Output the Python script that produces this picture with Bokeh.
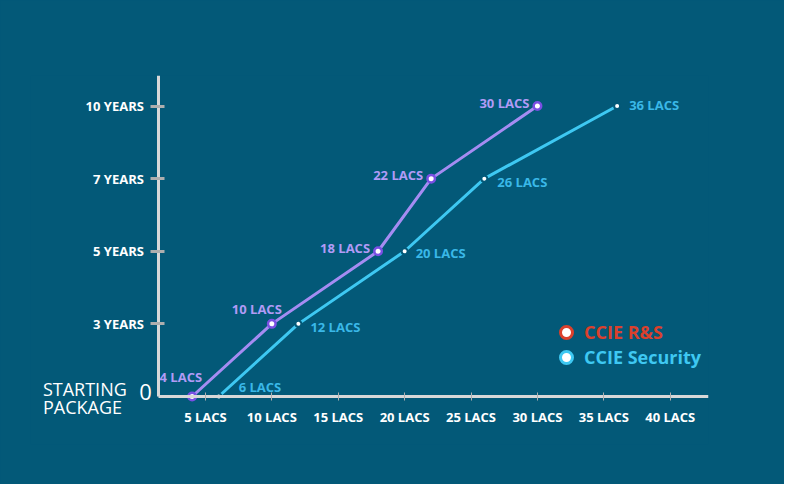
from bokeh.plotting import figure
from bokeh.models import (FixedTicker, ColumnDataSource, Legend, LegendItem, Range1d)
from bokeh.core.properties import value
from bokeh.embed import file_html
from bokeh.resources import INLINE

# ---- data ----
year_levels = [0, 3, 5, 7, 10]
year_tick_labels = ["0", "3 YEARS", "5 YEARS", "7 YEARS", "10 YEARS"]
start_label = ["STARTING", "PACKAGE"]
salary_ticks = [5, 10, 15, 20, 25, 30, 35, 40]
salary_tick_labels = ["5 LACS", "10 LACS", "15 LACS", "20 LACS",
                      "25 LACS", "30 LACS", "35 LACS", "40 LACS"]

rs_years = [0, 3, 5, 7, 10]
rs_salary = [4, 10, 18, 22, 30]
sec_years = [0, 3, 5, 7, 10]
sec_salary = [6, 12, 20, 26, 36]

# label offsets (pixels, styling only)
rs_label_dx = [10, 10, -8, -8, -8]
rs_label_dy = [-19, -15, -3, -4, -3]
sec_label_dx = [20, 12, 11, 13, 12]
sec_label_dy = [-9, 3, 2, 3, -1]

BG = "#035978"
PURPLE = "#a58cf2"
PURPLE_DARK = "#7a4fe3"
PURPLE_TEXT = "#b19bf6"
BLUE = "#3ec8f2"
BLUE_TEXT = "#3ab8e8"
RED = "#db402c"
FONT = "Open Sans"

def src(years, salary, dx, dy):
    return ColumnDataSource(dict(
        x=salary,
        y=[year_levels.index(v) for v in years],
        txt=[f"{s} LACS" for s in salary],
        dx=dx, dy=dy,
    ))

rs_src = src(rs_years, rs_salary, rs_label_dx, rs_label_dy)
sec_src = src(sec_years, sec_salary, sec_label_dx, sec_label_dy)

AXIS_X0 = 1.5
X_LO, X_HI = -8.17, 42.88
Y_LO, Y_HI = -0.661, 4.42

p = figure(width=784, height=484, output_backend="svg", toolbar_location=None,
           x_range=Range1d(X_LO, X_HI), y_range=Range1d(Y_LO, Y_HI),
           min_border_left=30, min_border_right=76, min_border_top=75,
           min_border_bottom=40)
p.styles = {"background-color": BG}
p.background_fill_color = BG
p.background_fill_alpha = 0
p.border_fill_color = BG
p.outline_line_color = None
p.grid.visible = False

# axes (drawn at fixed positions so that side texts stay inside the frame)
for ax in (p.xaxis, p.yaxis):
    ax.axis_line_color = "#d8d8d8"
    ax.axis_line_width = 3
    ax.major_label_text_font = FONT
    ax.major_label_text_font_style = "bold"
    ax.major_label_text_font_size = "13px"
    ax.major_label_text_color = "white"
    ax.minor_tick_line_color = None

p.xaxis.fixed_location = 0
p.xaxis.bounds = (AXIS_X0, X_HI)
p.xaxis.ticker = FixedTicker(ticks=salary_ticks)
p.xaxis.major_label_overrides = {t: l for t, l in zip(salary_ticks, salary_tick_labels)}
p.xaxis.major_tick_line_color = "#b0b0b0"
p.xaxis.major_tick_line_width = 1
p.xaxis.major_tick_in = 4
p.xaxis.major_tick_out = 4
p.xaxis.major_label_standoff = 8

level_ticks = list(range(1, len(year_levels)))
p.yaxis.fixed_location = AXIS_X0
p.yaxis.bounds = (0, Y_HI)
p.yaxis.ticker = FixedTicker(ticks=level_ticks)
p.yaxis.major_label_overrides = {i: "" for i in level_ticks}
p.yaxis.major_tick_line_color = "#aeaeae"
p.yaxis.major_tick_line_width = 3
p.yaxis.major_tick_in = 6
p.yaxis.major_tick_out = 8
p.yaxis.major_label_standoff = 0

# y tick labels (years) as text next to the axis
ytl = ColumnDataSource(dict(x=[AXIS_X0] * len(level_ticks), y=level_ticks,
                            t=year_tick_labels[1:]))
p.text("x", "y", text="t", source=ytl, x_offset=-15, text_align="right",
       text_baseline="middle", text_color="white", text_font=value(FONT),
       text_font_style="bold", text_font_size="13px")
p.text(x=[AXIS_X0], y=[0], text=[year_tick_labels[0]], x_offset=-7, y_offset=-4,
       text_align="right", text_baseline="middle", text_color="white",
       text_font=value(FONT), text_font_size="22px")
p.text(x=[AXIS_X0, AXIS_X0], y=[0, 0], text=start_label, x_offset=-116,
       y_offset=[-7, 11], text_align="left", text_baseline="middle",
       text_color="white", text_font=value(FONT), text_font_size="18px")

# lines
p.line("x", "y", source=sec_src, line_color=BLUE, line_width=3)
p.line("x", "y", source=rs_src, line_color=PURPLE, line_width=3)
p.scatter("x", "y", source=sec_src, size=6, fill_color="white", line_color=BG, line_width=2)
p.scatter("x", "y", source=rs_src, size=7.5, fill_color="white", line_color=PURPLE_DARK, line_width=2.5)

p.text("x", "y", text="txt", source=rs_src, x_offset="dx", y_offset="dy",
       text_align="right", text_baseline="middle", text_color=PURPLE_TEXT,
       text_font=value(FONT), text_font_style="bold", text_font_size="13px")
p.text("x", "y", text="txt", source=sec_src, x_offset="dx", y_offset="dy",
       text_align="left", text_baseline="middle", text_color=BLUE_TEXT,
       text_font=value(FONT), text_font_style="bold", text_font_size="13px")

# legend (proxy renderers, hidden in the plot)
r_rs = p.scatter("x", "y", source=rs_src, size=12, fill_color="white",
                 line_color=RED, line_width=3, visible=False)
r_sec = p.scatter("x", "y", source=sec_src, size=12, fill_color="white",
                  line_color=BLUE, line_width=3, visible=False)
for r, lbl, col, loc in ((r_rs, "CCIE R&S", RED, (521, 97)),
                         (r_sec, "CCIE Security", BLUE, (521, 72))):
    leg = Legend(items=[LegendItem(label=lbl, renderers=[r])], location=loc,
                 background_fill_alpha=0, border_line_color=None, padding=0, margin=0,
                 spacing=0, glyph_width=30, glyph_height=30, label_standoff=3,
                 inactive_fill_alpha=0, click_policy="none",
                 label_text_font=FONT, label_text_font_style="bold",
                 label_text_font_size="18px", label_text_color=col)
    p.add_layout(leg, "center")

open("out.html", "w").write(file_html(p, INLINE))
